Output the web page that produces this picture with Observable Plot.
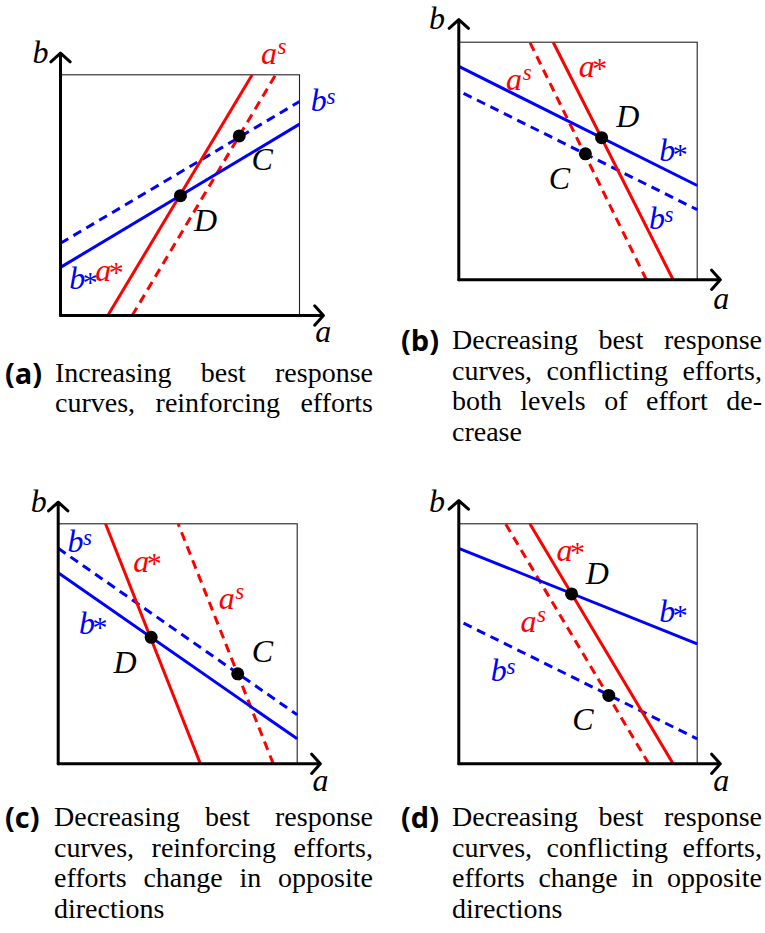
<!DOCTYPE html>
<html><head><meta charset="utf-8">
<script src="https://cdn.jsdelivr.net/npm/d3@7"></script>
<script src="https://cdn.jsdelivr.net/npm/@observablehq/plot@0.6"></script>
<style>
body{margin:0;background:#fff;font-family:"Liberation Serif",serif}
#root{position:relative;width:765px;height:933px;background:#fff}
.panel{position:absolute}
.cap{position:absolute;left:0;width:765px;color:#000;font-family:"Liberation Serif",serif;font-size:28px;line-height:30.5px}
.tag{position:absolute;top:0;font-family:"Open Sans",sans-serif;font-weight:bold;font-size:29px;line-height:30.5px;white-space:nowrap}
.txt{position:absolute;top:0;font-family:"Liberation Serif",serif}
.ln{text-align:justify;text-align-last:justify}
.ln.last{text-align-last:left}
</style></head>
<body>
<div id="root">
  <div class="cap" style="top:357.6px"><div class="tag" style="left:5px">(a)</div>
    <div class="txt" style="left:55px;width:318px"><div class="ln">Increasing best response</div><div class="ln">curves, reinforcing efforts</div></div></div>
  <div class="cap" style="top:325.4px"><div class="tag" style="left:401px">(b)</div>
    <div class="txt" style="left:452px;width:310px"><div class="ln">Decreasing best response</div><div class="ln">curves, conflicting efforts,</div><div class="ln">both levels of effort de-</div><div class="ln last">crease</div></div></div>
  <div class="cap" style="top:802px"><div class="tag" style="left:5px">(c)</div>
    <div class="txt" style="left:54px;width:319px"><div class="ln">Decreasing best response</div><div class="ln">curves, reinforcing efforts,</div><div class="ln">efforts change in opposite</div><div class="ln last">directions</div></div></div>
  <div class="cap" style="top:802px"><div class="tag" style="left:401px">(d)</div>
    <div class="txt" style="left:452px;width:310px"><div class="ln">Decreasing best response</div><div class="ln">curves, conflicting efforts,</div><div class="ln">efforts change in opposite</div><div class="ln last">directions</div></div></div>
</div>
<script>
// ---- data (a, b coordinates in the unit box of each panel) ----
const panelIds = ["a", "b", "c", "d"];
// best-response lines: [a1, b1, a2, b2]
const aStarEnds = [[0.198,0,0.802,1],[0.899,0,0.396,1],[0.595,0,0.198,1],[0.899,0,0.298,1]];
const aSupEnds  = [[0.300,0,0.900,1],[0.787,0,0.298,1],[0.900,0,0.502,1],[0.797,0,0.196,1]];
const bStarEnds = [[0,0.200,1,0.795],[0,0.898,1,0.397],[0,0.796,1,0.104],[0,0.898,1,0.500]];
const bSupEnds  = [[0,0.300,1,0.889],[0.02,0.785,1,0.295],[0,0.898,1,0.204],[0.02,0.586,1,0.104]];
// equilibrium points
const pointD = [[0.502,0.498],[0.599,0.598],[0.389,0.527],[0.473,0.708]];
const pointC = [[0.748,0.746],[0.531,0.530],[0.751,0.375],[0.629,0.285]];
// axis arrow ends: [a-axis end, b-axis end]
const axisEnds = [[1.100,1.090],[1.097,1.095],[1.097,1.090],[1.097,1.097]];
// annotations: [base, superscript, color, a, b]
const labelsA = [["a","s","red",0.872,1.044],["b","s","blue",1.081,0.848],["C","","black",0.844,0.605],["D","","black",0.607,0.353],
  ["b","*","blue",0.070,0.111],["a","*","red",0.179,0.145],["b","","black",-0.084,1.047],["a","","black",1.099,-0.111]];
const labelsB = [["a","s","red",0.232,0.797],["a","*","red",0.537,0.853],["D","","black",0.709,0.645],["b","*","blue",0.874,0.502],
  ["C","","black",0.422,0.383],["b","s","blue",0.831,0.215],["b","","black",-0.091,1.056],["a","","black",1.101,-0.122]];
const labelsC = [["b","s","blue",0.072,0.882],["a","*","red",0.348,0.798],["a","s","red",0.705,0.646],["b","*","blue",0.121,0.542],
  ["D","","black",0.280,0.378],["C","","black",0.854,0.423],["b","","black",-0.081,1.048],["a","","black",1.097,-0.115]];
const labelsD = [["a","*","red",0.443,0.847],["D","","black",0.581,0.750],["b","*","blue",0.874,0.590],["a","s","red",0.292,0.548],
  ["b","s","blue",0.168,0.347],["C","","black",0.521,0.139],["b","","black",-0.091,1.048],["a","","black",1.101,-0.115]];
const panelLabels = [labelsA, labelsB, labelsC, labelsD];

// ---- layout ----
const panelFrames = [
  {left:0,   top:0,   w:382, h:360, ml:60,   mr:83,   mt:74.3, mb:45},
  {left:383, top:0,   w:382, h:330, ml:75.3, mr:68.3, mt:41.7, mb:50.7},
  {left:0,   top:470, w:382, h:330, ml:57.7, mr:85.3, mt:53.3, mb:36.7},
  {left:383, top:470, w:382, h:330, ml:75.3, mr:68.3, mt:53.3, mb:36.7}
];

const root = document.getElementById("root");
const serif = "Liberation Serif";

panelIds.forEach((id, i) => {
  const f = panelFrames[i];
  const seg = (e, color, dashed) => ({x1:e[0], y1:e[1], x2:e[2], y2:e[3], color, dashed});
  const curves = [
    seg(bSupEnds[i], "blue", true), seg(aSupEnds[i], "red", true),
    seg(bStarEnds[i], "blue", false), seg(aStarEnds[i], "red", false)
  ];
  const axes = [
    {x1:0, y1:0, x2:axisEnds[i][0], y2:0},
    {x1:0, y1:0, x2:0, y2:axisEnds[i][1]}
  ];
  const pts = [pointD[i], pointC[i]].map(([a, b]) => ({a, b}));
  const labs = panelLabels[i].map(([t, s, c, a, b]) => ({t, s, c, a, b}));
  const textOpts = {x:"a", y:"b", fill:"c", fontFamily:serif, textAnchor:"middle", lineAnchor:"bottom"};
  const chart = Plot.plot({
    width: f.w, height: f.h,
    marginLeft: f.ml, marginRight: f.mr, marginTop: f.mt, marginBottom: f.mb,
    x: {domain:[0,1], axis:null},
    y: {domain:[0,1], axis:null},
    color: {type:"identity"},
    style: {background:"transparent", overflow:"visible"},
    marks: [
      Plot.frame({stroke:"#222", strokeWidth:1.1}),
      Plot.link(curves.filter(d => d.dashed), {x1:"x1", y1:"y1", x2:"x2", y2:"y2", stroke:"color", strokeWidth:3, strokeDasharray:"9,6"}),
      Plot.link(curves.filter(d => !d.dashed), {x1:"x1", y1:"y1", x2:"x2", y2:"y2", stroke:"color", strokeWidth:3}),
      Plot.arrow(axes, {x1:"x1", y1:"y1", x2:"x2", y2:"y2", stroke:"black", strokeWidth:3, headLength:6.5, headAngle:96, strokeLinecap:"round", strokeLinejoin:"round"}),
      Plot.dot(pts, {x:"a", y:"b", r:6.5, fill:"black"}),
      Plot.text(labs, {...textOpts, text:"t", fontSize:32, fontStyle:"italic"}),
      Plot.text(labs.filter(d => d.s === "s" && d.t === "a"), {...textOpts, text:"s", fontSize:23, fontStyle:"italic", dx:13, dy:-10}),
      Plot.text(labs.filter(d => d.s === "s" && d.t === "b"), {...textOpts, text:"s", fontSize:23, fontStyle:"italic", dx:12, dy:-7}),
      Plot.text(labs.filter(d => d.s === "*" && d.t === "a"), {...textOpts, text:"s", fontSize:30, dx:13, dy:1}),
      Plot.text(labs.filter(d => d.s === "*" && d.t === "b"), {...textOpts, text:"s", fontSize:30, dx:13, dy:3})
    ]
  });
  const wrap = document.createElement("div");
  wrap.className = "panel";
  wrap.style.left = f.left + "px";
  wrap.style.top = f.top + "px";
  wrap.appendChild(chart);
  root.appendChild(wrap);
});
</script>
</body></html>
